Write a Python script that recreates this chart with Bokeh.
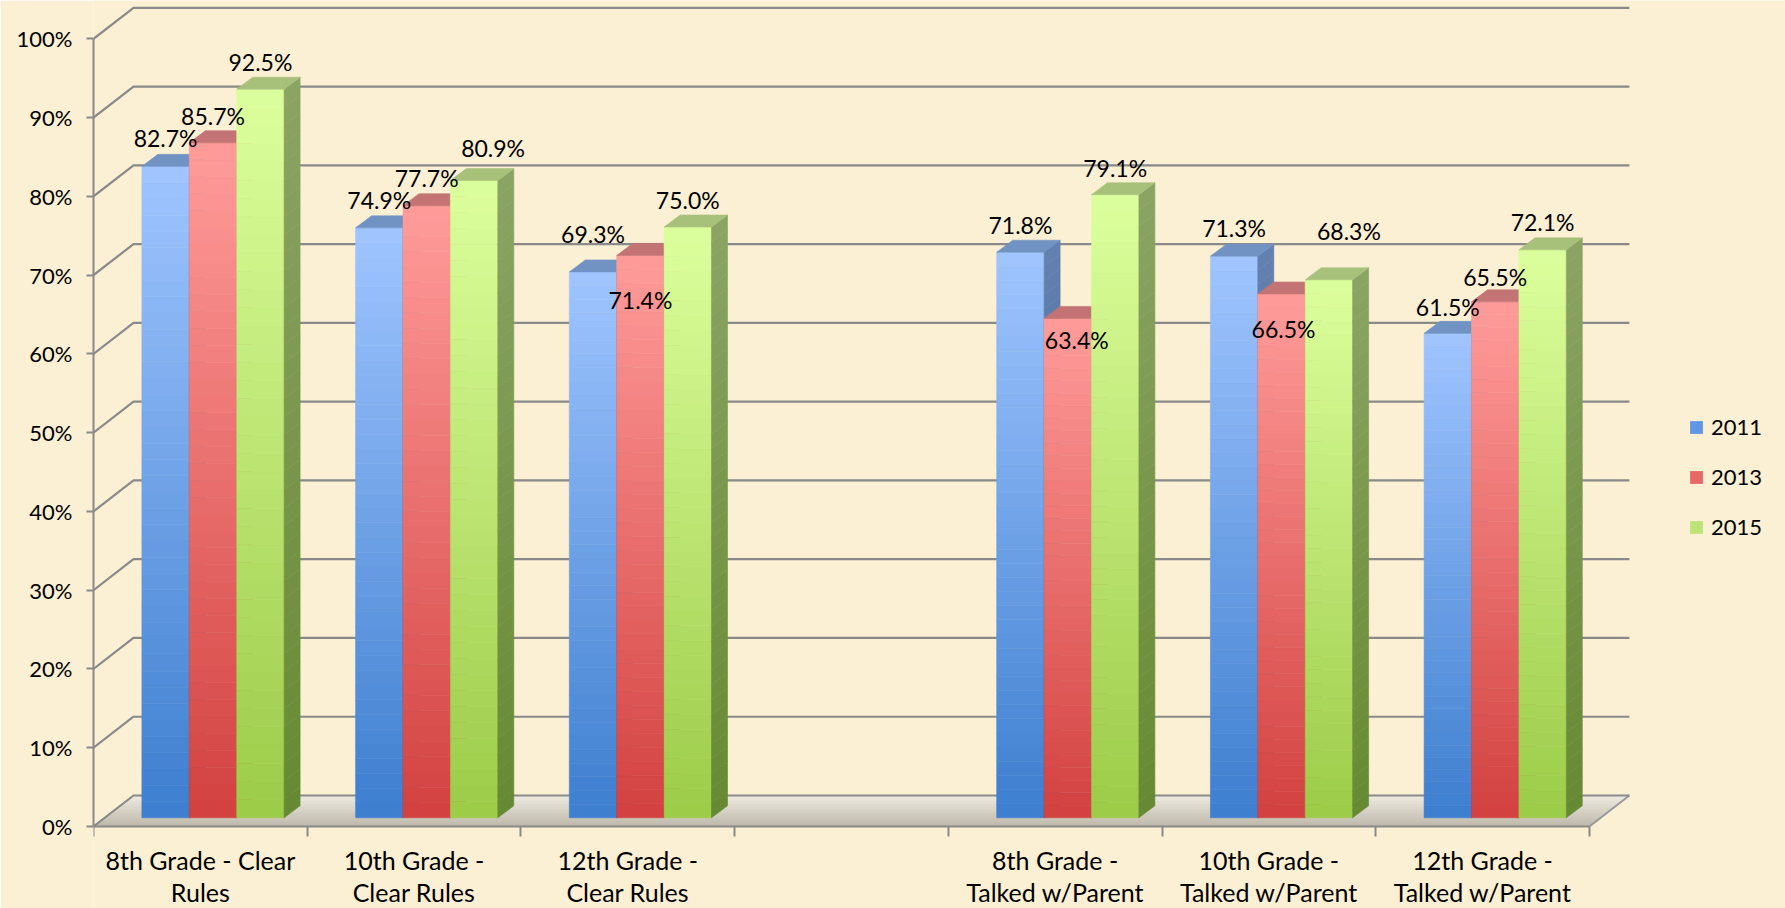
import numpy as np
from bokeh.plotting import figure
from bokeh.models import (Range1d, FixedTicker, PrintfTickFormatter, Legend,
                          LegendItem, LinearAxis, ColumnDataSource)
from bokeh.core.properties import value
from bokeh.embed import file_html
from bokeh.resources import INLINE

# ---------------- data ----------------
categories = ["8th Grade - Clear\nRules", "10th Grade -\nClear Rules",
              "12th Grade -\nClear Rules", "",
              "8th Grade -\nTalked w/Parent", "10th Grade -\nTalked w/Parent",
              "12th Grade -\nTalked w/Parent"]
series_names = ["2011", "2013", "2015"]
v2011 = [82.7, 74.9, 69.3, None, 71.8, 71.3, 61.5]
v2013 = [85.7, 77.7, 71.4, None, 63.4, 66.5, 65.5]
v2015 = [92.5, 80.9, 75.0, None, 79.1, 68.3, 72.1]
y_ticks = [0, 10, 20, 30, 40, 50, 60, 70, 80, 90, 100]

# data-label placement (screen px, + = right / down)
lab_dx = [[0, 0, 0, 0, 0, 0, 0],
          [0, 0, 0, 0, 9, 2, 0],
          [0, 19, 0, 0, 0, 20, 0]]
lab_dy = [[-28, -28, -38, 0, -27, -28, -26],
          [-27, -28, 45, 0, 22, 35, -25],
          [-27, -33, -27, 0, -27, -49, -28]]

# ---------------- styling ----------------
BG = "#FBEFD4"
GRID = "#8A8A8A"
FONT = "Lato"
front_cols = [("#3D7ECF", "#A0C5FF"), ("#D24140", "#FF9C9A"), ("#9CCB48", "#DCFF9D")]
side_cols = [("#2F5F9F", "#6481AE"), ("#A03232", "#C26E6E"), ("#668A32", "#8BA464")]
top_cols = ["#7093C4", "#C37373", "#A7C17B"]
legend_cols = ["#5F96E6", "#E86866", "#BCE378"]

W, H = 1785, 908
LEFT = 93             # px from page left to front value axis
ZERO_Y = 826          # px from page top to 0 %
PX_X = 213.7          # px per category
PX_Y = 7.877          # px per percent
x_end = (W - LEFT) / PX_X
y_start = -(H - ZERO_Y) / PX_Y
y_end = ZERO_Y / PX_Y

wall_dx = 40 / PX_X
wall_dy = 31 / PX_Y
bar_dx = 16 / PX_X
bar_dy = 12 / PX_Y
bar_off = 48.4 / PX_X
bar_w = 47.4 / PX_X
bar_base = 8.7 / PX_Y
ncat = len(categories)


def hex2rgb(h):
    return np.array([int(h[i:i + 2], 16) for i in (1, 3, 5)], dtype=float)


def mix(c0, c1, t):
    a, b = hex2rgb(c0), hex2rgb(c1)
    c = a + (b - a) * t
    return "#%02x%02x%02x" % tuple(int(round(v)) for v in c)


p = figure(width=W, height=H, x_range=Range1d(0, x_end),
           y_range=Range1d(y_start, y_end), output_backend="svg",
           toolbar_location=None, x_axis_type=None, y_axis_type=None,
           min_border_left=LEFT, min_border_right=0, min_border_top=0,
           min_border_bottom=0)
p.background_fill_color = BG
p.border_fill_color = BG
p.outline_line_color = None
p.xgrid.visible = False
p.ygrid.visible = False

# ---------------- floor ----------------
NF = 12
fxs, fys, fcs = [], [], []
for k in range(NF):
    ta, tb = k / NF, (k + 1) / NF
    fxs.append([ta * wall_dx, ncat + ta * wall_dx, ncat + tb * wall_dx, tb * wall_dx])
    fys.append([ta * wall_dy, ta * wall_dy, tb * wall_dy, tb * wall_dy])
    fcs.append(mix("#BDB7A9", "#EEEAE0", (k + 0.5) / NF))
p.patches(fxs, fys, fill_color=fcs, line_color=fcs, line_width=1)
p.line([ncat, ncat + wall_dx], [0, wall_dy], line_color="#9A9A9A", line_width=2)

# ---------------- walls / gridlines ----------------
gxs, gys = [], []
for t in y_ticks:
    gxs.append([0, wall_dx, ncat + wall_dx])
    gys.append([t, t + wall_dy, t + wall_dy])
p.multi_line(gxs, gys, line_color=GRID, line_width=2.2)

# ---------------- 3D bars ----------------
NS = 40
all_vals = [v2011, v2013, v2015]
label_rows = dict(x=[], y=[], text=[], dx=[], dy=[])
legend_items = []
for s, vals in enumerate(all_vals):
    f_l, f_r, f_b, f_t, f_c = [], [], [], [], []
    s_xs, s_ys, s_c = [], [], []
    t_xs, t_ys = [], []
    for i, v in enumerate(vals):
        if v is None:
            continue
        x0 = i + bar_off + s * bar_w
        x1 = x0 + bar_w
        y0 = bar_base
        y1 = bar_base + v
        for k in range(NS):
            ya = y0 + (y1 - y0) * k / NS
            yb = y0 + (y1 - y0) * (k + 1) / NS
            tt = (k + 0.5) / NS
            f_l.append(x0); f_r.append(x1); f_b.append(ya); f_t.append(yb)
            f_c.append(mix(front_cols[s][0], front_cols[s][1], tt))
            s_xs.append([x1, x1 + bar_dx, x1 + bar_dx, x1])
            s_ys.append([ya, ya + bar_dy, yb + bar_dy, yb])
            s_c.append(mix(side_cols[s][0], side_cols[s][1], tt))
        t_xs.append([x0, x1, x1 + bar_dx, x0 + bar_dx])
        t_ys.append([y1, y1, y1 + bar_dy, y1 + bar_dy])
        label_rows["x"].append((x0 + x1) / 2)
        label_rows["y"].append(y1)
        label_rows["text"].append("%.1f%%" % v)
        label_rows["dx"].append(lab_dx[s][i])
        label_rows["dy"].append(lab_dy[s][i])
    p.quad(left=f_l, right=f_r, bottom=f_b, top=f_t, fill_color=f_c,
           line_color=f_c, line_width=0.6)
    p.patches(s_xs, s_ys, fill_color=s_c, line_color=s_c, line_width=0.6)
    p.patches(t_xs, t_ys, fill_color=top_cols[s], line_color=top_cols[s], line_width=0.6)
    lr = p.quad(left=[np.nan], right=[np.nan], bottom=[np.nan], top=[np.nan],
                fill_color=legend_cols[s], line_color=None)
    legend_items.append(LegendItem(label=series_names[s], renderers=[lr]))

src = ColumnDataSource(label_rows)
p.text(x="x", y="y", text="text", x_offset="dx", y_offset="dy", source=src,
       text_font=value(FONT), text_font_size="23px", text_color="black",
       text_align="center", text_baseline="middle")

# ---------------- axes ----------------
yax = LinearAxis(ticker=FixedTicker(ticks=y_ticks),
                 formatter=PrintfTickFormatter(format="%d%%"),
                 bounds=(0, 100))
yax.axis_line_color = GRID
yax.axis_line_width = 2
yax.major_tick_line_color = GRID
yax.major_tick_line_width = 2
yax.major_tick_out = 7
yax.major_tick_in = 0
yax.minor_tick_line_color = None
yax.major_label_text_font = FONT
yax.major_label_text_font_size = "22px"
yax.major_label_text_color = "black"
yax.major_label_standoff = 14
p.add_layout(yax, "left")

centers = [i + 0.5 for i in range(ncat)]
bounds_ticks = [i for i in range(ncat + 1)]
xax = LinearAxis(ticker=FixedTicker(ticks=centers, minor_ticks=bounds_ticks),
                 bounds=(0, ncat), fixed_location=0)
xax.major_label_overrides = {c: lab for c, lab in zip(centers, categories)}
xax.axis_line_color = GRID
xax.axis_line_width = 2
xax.major_tick_line_color = None
xax.major_tick_out = 0
xax.major_tick_in = 0
xax.minor_tick_line_color = GRID
xax.minor_tick_line_width = 2
xax.minor_tick_out = 10
xax.minor_tick_in = 0
xax.major_label_text_font = FONT
xax.major_label_text_font_size = "25px"
xax.major_label_text_color = "black"
xax.major_label_text_line_height = 1.08
xax.major_label_standoff = 8
p.add_layout(xax, "below")

# ---------------- legend ----------------
legend = Legend(items=legend_items, location=(1595, 368), orientation="vertical")
legend.background_fill_alpha = 0
legend.border_line_color = None
legend.padding = 0
legend.margin = 0
legend.glyph_width = 16
legend.glyph_height = 16
legend.label_height = 20
legend.spacing = 23
legend.label_standoff = 7
legend.label_text_font = FONT
legend.label_text_font_size = "22px"
legend.label_text_color = "black"
p.add_layout(legend)

html = file_html(p, INLINE)
html = html.replace("<body>", '<body style="background-color:%s;">' % BG, 1)
open("out.html", "w").write(html)
